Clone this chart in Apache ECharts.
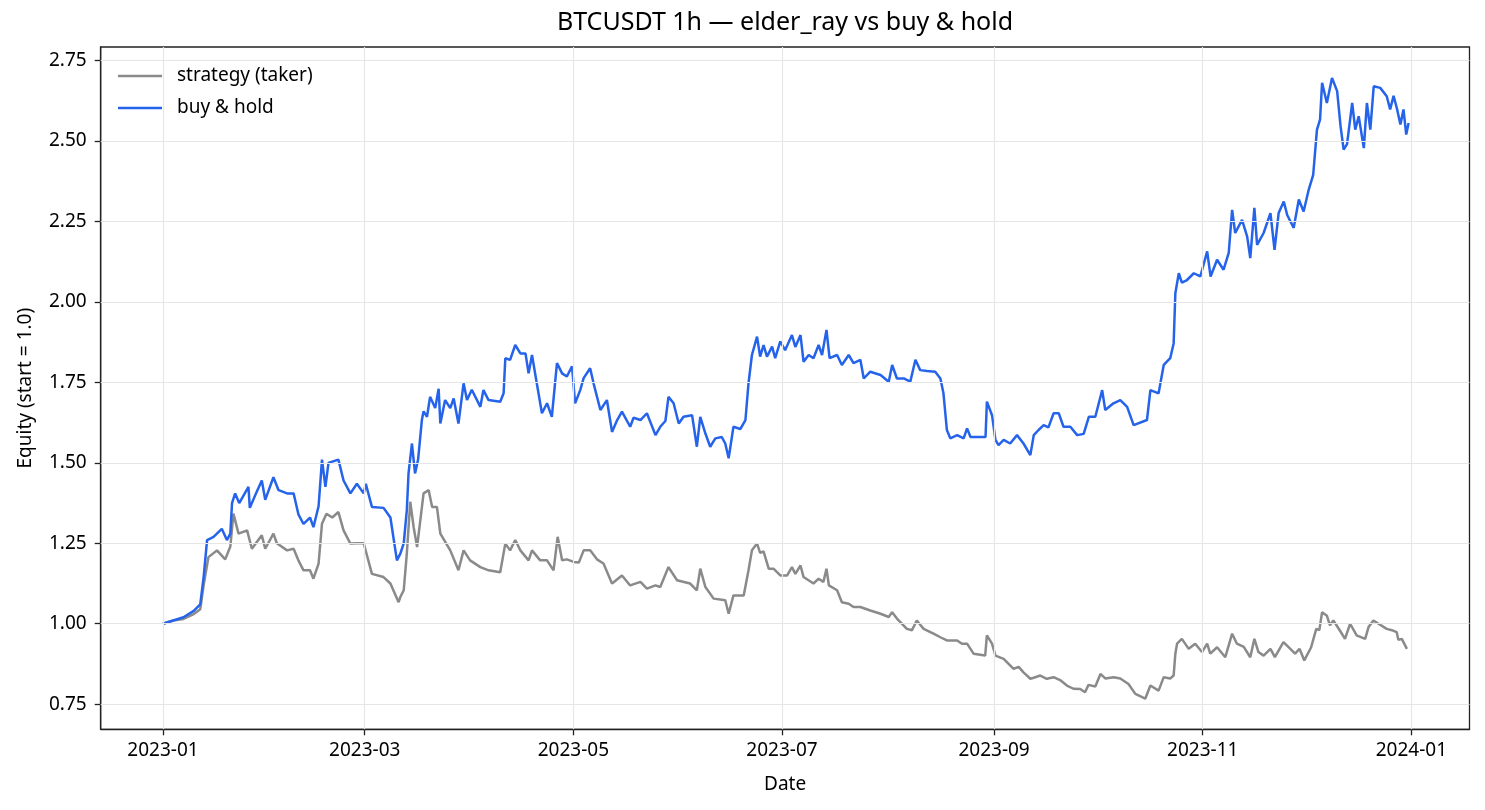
<!DOCTYPE html>
<html>
<head>
<meta charset="utf-8">
<script src="https://cdn.jsdelivr.net/npm/echarts@6/dist/echarts.min.js"></script>
<style>html,body{margin:0;padding:0;background:#fff}#c{width:1485px;height:810px}</style>
</head>
<body>
<div id="c"></div>
<script>
// ---- data (day offsets from 2023-01-01, equity values) ----
const bhDays = [0,3,6,9,10.9,11.9,12.9,14.8,17.2,18.7,19.7,20.2,21.1,22.3,25,25.4,27,28.9,29.9,32.3,33.8,36.3,38.2,39.6,41.1,43,44,45.5,46.5,47.5,48.4,51.3,52.8,54.8,56.7,58.7,59.3,61.1,64.5,66.5,68.4,69.4,70.4,71.3,71.8,72.8,73.7,74.6,75.7,76.2,77.2,78.1,79.6,80.6,81.1,82.5,84,85,86.4,87.9,88.9,90.3,92.8,93.7,95.2,98.6,99.6,100.1,101.5,103,104.5,106,106.9,107.9,109.3,110.8,112.3,113.7,115.2,116.7,118.1,119.6,120.5,122,123,124.9,125.9,127.9,129.8,131.3,132.8,134.2,136.6,137.6,139.6,141.5,144,145.4,146.9,147.8,149.3,150.8,152.2,154.7,156.1,157.1,158.6,160,161.5,163.4,164.4,165.4,166.8,168.8,170.3,171.2,172.2,173.7,174.6,175.6,176.6,178.1,179,180.5,181.9,183.9,184.9,186.4,187.3,188.8,190.2,191.7,192.7,194,194.9,197.1,198.5,200.5,201.9,203.9,204.9,206.8,209.8,212.2,213.2,214.6,216.6,218.5,220,221.4,223.4,225.8,227.3,228.2,229.2,230.2,232.2,234.1,235.1,236.1,239,240.5,240.9,242.4,243.4,244.3,245.8,247.7,249.7,251.6,253.6,254.6,256,257.5,258.9,260.4,261.9,263.3,265.3,267.3,269.2,270.7,272.6,274.6,275.5,277.9,279.9,281.9,283.8,287.7,288.7,291.1,292.6,294.5,295.5,296,297,297.9,299.4,301.4,303.3,305.3,306.3,308.2,310.1,311.6,312.6,313.5,315.5,317,317.9,319.1,319.9,321.8,323.8,325,326.2,327.7,328.7,330.6,332.1,333.5,335,336.3,337.4,338.3,338.9,340.3,341.8,343.3,344.3,345.2,346.2,347.7,348.6,349.6,351.1,352,353,354,355.9,357.8,358.8,359.8,360.8,361.8,362.7,363.5,364.2];
const bhVals = [1.00,1.01,1.02,1.04,1.06,1.145,1.26,1.27,1.295,1.26,1.28,1.375,1.405,1.375,1.425,1.36,1.40,1.445,1.385,1.455,1.415,1.405,1.405,1.34,1.31,1.33,1.30,1.365,1.51,1.425,1.50,1.51,1.445,1.405,1.435,1.405,1.435,1.363,1.36,1.33,1.197,1.218,1.25,1.353,1.467,1.56,1.467,1.51,1.633,1.66,1.643,1.705,1.67,1.73,1.622,1.695,1.67,1.70,1.622,1.747,1.695,1.727,1.674,1.726,1.695,1.69,1.716,1.825,1.82,1.866,1.84,1.84,1.778,1.835,1.747,1.654,1.685,1.643,1.81,1.778,1.768,1.80,1.685,1.726,1.763,1.794,1.747,1.664,1.695,1.596,1.633,1.659,1.612,1.64,1.633,1.654,1.586,1.612,1.63,1.705,1.685,1.622,1.643,1.648,1.55,1.643,1.591,1.55,1.576,1.58,1.56,1.514,1.612,1.605,1.633,1.747,1.835,1.892,1.83,1.866,1.83,1.861,1.825,1.877,1.85,1.897,1.86,1.897,1.814,1.835,1.825,1.866,1.835,1.913,1.825,1.835,1.804,1.835,1.81,1.82,1.762,1.783,1.773,1.752,1.804,1.762,1.762,1.752,1.82,1.788,1.785,1.783,1.762,1.716,1.602,1.576,1.586,1.576,1.607,1.58,1.58,1.58,1.69,1.648,1.571,1.555,1.571,1.56,1.586,1.56,1.524,1.586,1.602,1.617,1.61,1.654,1.654,1.612,1.612,1.586,1.59,1.643,1.643,1.726,1.664,1.685,1.695,1.674,1.617,1.633,1.726,1.716,1.804,1.825,1.871,2.027,2.089,2.06,2.068,2.089,2.079,2.157,2.079,2.131,2.10,2.152,2.286,2.214,2.255,2.203,2.136,2.292,2.177,2.214,2.276,2.162,2.276,2.312,2.27,2.23,2.318,2.281,2.349,2.395,2.535,2.566,2.681,2.618,2.696,2.655,2.546,2.473,2.49,2.618,2.535,2.577,2.478,2.618,2.535,2.67,2.665,2.639,2.598,2.64,2.60,2.551,2.598,2.52,2.556];

const stDays = [0,3,6,9,10.9,11.9,13.3,15.8,18.2,19.7,20.6,22.1,24.6,26,28.9,29.9,32.3,33.3,36.3,38.2,39.6,41.1,43,44,45.5,46.5,47.8,49.5,51.3,52.8,54.8,56.7,58.7,61.1,64.5,66.5,68.9,69.4,70.4,71.3,72.3,73.3,74.3,76.2,77.7,78.7,80.1,81.1,84,86.4,87.9,89.8,92.8,95.2,98.6,100.1,101.5,103,104.5,106.9,107.9,110.3,112.3,114.2,115.4,116.7,118.1,120.1,121.6,123,124.9,126.9,128.8,131.3,134.2,136.6,139.6,141.5,144,145.4,147.8,150.3,154.1,156.1,157.1,158.6,161,164.4,165.4,166.8,169.8,171.2,172.2,173.7,174.6,175.6,177.1,178.5,180.5,182.5,183.9,184.9,186.4,187.3,190.2,191.7,193.1,194,194.7,197.1,198.5,200.5,201.9,203.9,206.8,209.8,212.2,213.2,214.6,217.5,219,220.4,222.4,225.3,227.3,229.2,232.2,233.6,235.1,237,240.4,240.9,242.4,243.4,245.8,248.7,250.2,251.6,253.6,254.6,256.5,258.4,260.4,262.3,264.3,266.2,268.2,269.6,270.6,272.6,274.1,275.5,278,279.9,282.3,284.3,287.2,288.7,291.1,292.6,294.5,295.5,296,296.5,297.9,299.9,301.8,303.8,305.3,306.2,308.2,310.6,312.6,314,316,317.9,319.1,320.3,321.8,323.8,325.1,327.6,329.1,331,332.3,333.7,335.7,337.2,338.1,338.9,340.3,341.2,342.2,344.1,345.6,347.1,349,351.5,352.5,353.9,355.4,357.8,359.3,360.7,361.2,362.2,363.7];
const stVals = [1.00,1.01,1.015,1.03,1.045,1.12,1.207,1.228,1.20,1.24,1.342,1.28,1.29,1.233,1.275,1.233,1.28,1.25,1.228,1.233,1.197,1.166,1.166,1.14,1.187,1.311,1.342,1.33,1.347,1.29,1.249,1.25,1.25,1.155,1.145,1.125,1.067,1.083,1.104,1.218,1.379,1.30,1.238,1.405,1.415,1.363,1.363,1.28,1.228,1.166,1.228,1.197,1.176,1.166,1.16,1.249,1.228,1.26,1.228,1.197,1.228,1.197,1.197,1.166,1.27,1.197,1.20,1.192,1.19,1.228,1.228,1.20,1.187,1.125,1.15,1.119,1.13,1.109,1.119,1.114,1.176,1.135,1.125,1.104,1.171,1.114,1.078,1.073,1.031,1.088,1.088,1.166,1.228,1.249,1.22,1.225,1.171,1.171,1.15,1.15,1.176,1.155,1.181,1.145,1.125,1.14,1.13,1.171,1.119,1.104,1.067,1.062,1.052,1.052,1.041,1.031,1.021,1.036,1.016,0.984,0.98,1.01,0.984,0.969,0.958,0.948,0.948,0.938,0.938,0.907,0.901,0.964,0.938,0.901,0.891,0.86,0.866,0.849,0.829,0.832,0.839,0.829,0.834,0.825,0.808,0.798,0.797,0.787,0.81,0.805,0.844,0.83,0.834,0.83,0.813,0.782,0.767,0.808,0.792,0.834,0.83,0.839,0.907,0.938,0.953,0.922,0.938,0.912,0.938,0.907,0.927,0.896,0.969,0.938,0.928,0.896,0.953,0.912,0.901,0.922,0.896,0.943,0.927,0.907,0.922,0.886,0.927,0.984,0.98,1.036,1.025,0.995,1.01,0.979,0.953,1.0,0.964,0.953,0.99,1.01,1.0,0.984,0.98,0.974,0.95,0.953,0.922];

const xTickDates = ['2023-01-01','2023-03-01','2023-05-01','2023-07-01','2023-09-01','2023-11-01','2024-01-01'];
const xTickLabels = ['2023-01','2023-03','2023-05','2023-07','2023-09','2023-11','2024-01'];
const yTicks = [0.75,1.00,1.25,1.50,1.75,2.00,2.25,2.50,2.75];

const seriesNames = ['strategy (taker)','buy & hold'];
const titleText = 'BTCUSDT 1h \u2014 elder_ray vs buy & hold';

// ---- build ----
const DAY = 86400000;
const START = Date.UTC(2023,0,1);
const toTs = d => START + d * DAY;
const dateTs = s => Date.parse(s + 'T00:00:00Z');
const xTickTs = xTickDates.map(dateTs);
const FONT = 'Noto Sans';
const stData = stDays.map((d,i)=>[toTs(d), stVals[i]]);
const bhData = bhDays.map((d,i)=>[toTs(d), bhVals[i]]);

const chart = echarts.init(document.getElementById('c'), null, {renderer:'canvas'});
chart.setOption({
  animation:false,
  backgroundColor:'#fff',
  textStyle:{fontFamily:FONT},
  title:{text:titleText,left:785,textAlign:'center',top:10,padding:0,
    textStyle:{fontFamily:FONT,fontSize:25,fontWeight:'normal',color:'#000'}},
  grid:{left:100.7,right:15.5,top:47,bottom:80.7,show:true,borderColor:'#222',borderWidth:1.3,containLabel:false},
  legend:{data:seriesNames,orient:'vertical',left:118,top:65,padding:0,icon:'rect',itemWidth:44,itemHeight:2.5,itemGap:10,
    textStyle:{fontFamily:FONT,fontSize:19,color:'#000',lineHeight:22,padding:[0,0,0,10]}},
  xAxis:{type:'value',min:toTs(-18.2),max:toTs(382.0),
    name:'Date',nameLocation:'middle',nameGap:46,
    nameTextStyle:{fontFamily:FONT,fontSize:19,color:'#000'},
    axisLine:{show:true,onZero:false,lineStyle:{color:'#222',width:1.3}},
    axisTick:{show:true,length:6,lineStyle:{color:'#222',width:1.3},customValues:xTickTs},
    axisLabel:{margin:12,fontFamily:FONT,fontSize:19,color:'#000',customValues:xTickTs,
      formatter:v=>{const i=xTickTs.indexOf(v);return i>=0?xTickLabels[i]:'';}},
    splitLine:{show:false}},
  yAxis:{type:'value',min:0.672,max:2.792,
    name:'Equity (start = 1.0)',nameLocation:'middle',nameGap:66,nameRotate:90,
    nameTextStyle:{fontFamily:FONT,fontSize:19,color:'#000'},
    axisLine:{show:true,onZero:false,lineStyle:{color:'#222',width:1.3}},
    axisTick:{show:true,length:6,lineStyle:{color:'#222',width:1.3},customValues:yTicks},
    axisLabel:{margin:14,fontFamily:FONT,fontSize:19,color:'#000',customValues:yTicks,
      formatter:v=>v.toFixed(2)},
    splitLine:{show:false}},
  series:[
    {name:'grid',type:'line',data:[],z:0,silent:true,
      markLine:{silent:true,symbol:['none','none'],label:{show:false},animation:false,
        lineStyle:{color:'#e6e6e6',width:1.2,type:'solid'},
        data:xTickTs.map(t=>({xAxis:t})).concat(yTicks.map(v=>({yAxis:v})))}},
    {name:seriesNames[0],type:'line',data:stData,showSymbol:false,symbol:'none',z:2,
      color:'#8a8a8a',lineStyle:{color:'#8a8a8a',width:2.5}},
    {name:seriesNames[1],type:'line',data:bhData,showSymbol:false,symbol:'none',z:3,
      color:'#2563eb',lineStyle:{color:'#2563eb',width:2.5}}
  ]
});
</script>
</body>
</html>
